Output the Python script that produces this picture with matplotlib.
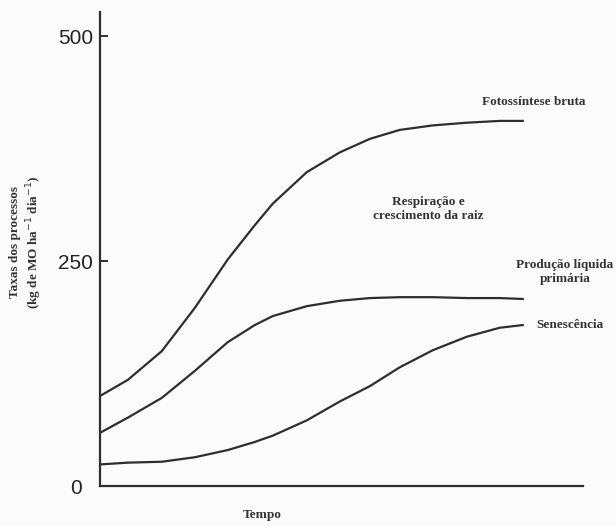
import matplotlib.pyplot as plt
from matplotlib.transforms import ScaledTranslation

# time axis (no units shown on the chart)
tempo = [0, 28, 62, 95, 128, 155, 173, 207, 240, 270, 300, 333, 367, 400, 423]

# rates in kg de MO ha-1 dia-1
fotossintese = [100, 118, 150, 198, 252, 290, 314, 349, 371, 386, 396, 401, 404, 406, 406]
respiracao = [59, 76, 98, 128, 160, 179, 189, 200, 206, 209, 210, 210, 209, 209, 208]
senescencia = [24, 26, 27, 32, 40, 49, 56, 73, 94, 111, 132, 151, 166, 176, 179]

yticks = [0, 250, 500]
line_color = "#2e2e2e"
serif = ["Liberation Serif", "DejaVu Serif"]

fig = plt.figure(figsize=(6.16, 5.26), dpi=100, facecolor="#fbfbfb")
ax = fig.add_axes([0.162, 0.076, 0.784, 0.901])
ax.set_facecolor("none")

for serie in (fotossintese, respiracao, senescencia):
    ax.plot(tempo, serie, color=line_color, lw=1.6, solid_joinstyle="round")

ax.set_xlim(0, 483)
ax.set_ylim(0, 527)
ax.set_xticks([])
ax.set_yticks(yticks)
ax.set_yticklabels([str(v) for v in yticks], fontsize=15,
                   family=["Liberation Sans", "DejaVu Sans"], color="#222222")
ax.tick_params(axis="y", direction="in", length=6, width=1.4, pad=5, color=line_color)
# the "0" sits a bit further left than the other labels
zero = ax.get_yticklabels()[0]
zero.set_transform(zero.get_transform() + ScaledTranslation(-0.11, 0, fig.dpi_scale_trans))
for s in ("top", "right"):
    ax.spines[s].set_visible(False)
for s in ("left", "bottom"):
    ax.spines[s].set_linewidth(1.6)
    ax.spines[s].set_color(line_color)

# y label (two lines, rotated)
fig.text(0.043, 0.54, "Taxas dos processos\n(kg de MO ha$^{-1}$ dia$^{-1}$)",
         rotation=90, ha="center", va="center", fontsize=9.5, family=serif,
         fontweight="bold", color="#333333", linespacing=1.2)

# curve labels
lab = dict(family=serif, fontweight="bold", fontsize=9.5, color="#333333",
           ha="center", va="center", linespacing=1.3)
fig.text(534 / 616, 1 - 102 / 526, "Fotossíntese bruta", **lab)
fig.text(428 / 616, 1 - 209 / 526, "Respiração e\ncrescimento da raiz", **lab)
fig.text(565 / 616, 1 - 272 / 526, "Produção líquida\nprimária", **lab)
fig.text(570 / 616, 1 - 325 / 526, "Senescência", **lab)
fig.text(262 / 616, 1 - 515 / 526, "Tempo", **lab)

fig.savefig("out.png", dpi=100, facecolor=fig.get_facecolor())
